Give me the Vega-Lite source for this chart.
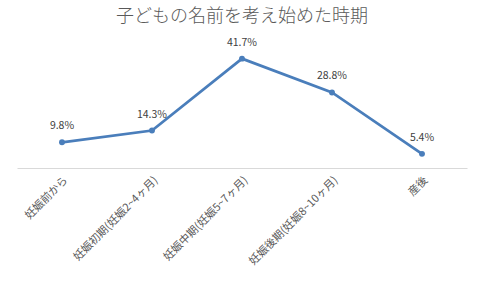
{
  "$schema": "https://vega.github.io/schema/vega-lite/v6.json",
  "autosize": "none",
  "width": 450,
  "height": 118,
  "padding": {"left": 17, "top": 50, "right": 13, "bottom": 120},
  "background": "white",
  "title": {
    "text": "子どもの名前を考え始めた時期",
    "font": "Noto Sans CJK JP",
    "fontSize": 18,
    "fontWeight": 300,
    "color": "#595959",
    "anchor": "middle",
    "offset": 12
  },
  "config": {"view": {"stroke": null}},
  "data": {
    "values": [
      {"period": "妊娠前から", "value": 0.098},
      {"period": "妊娠初期(妊娠2~4ヶ月)", "value": 0.143},
      {"period": "妊娠中期(妊娠5~7ヶ月)", "value": 0.417},
      {"period": "妊娠後期(妊娠8~10ヶ月)", "value": 0.288},
      {"period": "産後", "value": 0.054}
    ]
  },
  "encoding": {
    "x": {
      "field": "period",
      "type": "nominal",
      "sort": null,
      "scale": {"type": "band", "paddingInner": 0, "paddingOuter": 0},
      "axis": {
        "title": null,
        "labelAngle": -45,
        "labelFont": "Noto Sans CJK JP",
        "labelFontSize": 11,
        "labelColor": "#595959",
        "ticks": false,
        "labelPadding": 6,
        "domainColor": "#d9d9d9",
        "labelLimit": 200
      }
    },
    "y": {
      "field": "value",
      "type": "quantitative",
      "scale": {"domain": [0, 0.45]},
      "axis": null
    }
  },
  "layer": [
    {"mark": {"type": "line", "color": "#4a7ebb", "strokeWidth": 2.75}},
    {"mark": {"type": "point", "filled": true, "color": "#4a7ebb", "size": 35, "opacity": 1}},
    {
      "mark": {"type": "text", "dy": -16, "font": "Noto Sans CJK JP", "fontSize": 10.5, "color": "#404040"},
      "encoding": {"text": {"field": "value", "type": "quantitative", "format": ".1%"}}
    }
  ]
}
